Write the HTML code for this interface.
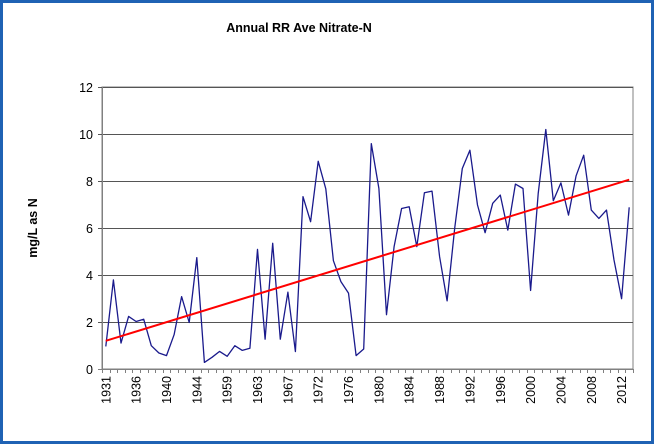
<!DOCTYPE html>
<html><head><meta charset="utf-8"><style>
html,body{margin:0;padding:0;background:#fff;}
svg{display:block;font-family:"Liberation Sans",Arial,sans-serif;}
</style></head><body>
<svg id="chart" width="655" height="446" viewBox="0 0 655 446">
<rect x="1.5" y="1.5" width="651" height="441" fill="#fff" stroke="#1f62b4" stroke-width="3"/>
<text x="299" y="32" text-anchor="middle" font-size="12.5" font-weight="bold">Annual RR Ave Nitrate-N</text>
<text transform="translate(37,228) rotate(-90)" text-anchor="middle" font-size="12.5" font-weight="bold">mg/L as N</text>
<g id="grid"></g>
<g id="yticks"></g>
<g id="xticks"></g>
<g id="series"></g>
</svg>
<script>
const categories = ["1931","1932","1933","1934","1936","1937","1938","1939","1940","1941","1942","1943","1944","1945","1946","1958","1959","1960","1961","1962","1963","1964","1965","1966","1967","1969","1970","1971","1972","1973","1974","1975","1976","1977","1978","1979","1980","1981","1982","1983","1984","1985","1986","1987","1988","1989","1990","1991","1992","1993","1994","1995","1996","1997","1998","1999","2000","2001","2002","2003","2004","2005","2006","2007","2008","2009","2010","2011","2012","2013"];
const nitrate = [0.96,3.79,1.10,2.24,2.02,2.12,0.99,0.68,0.57,1.46,3.08,1.98,4.74,0.28,0.50,0.75,0.54,0.99,0.79,0.88,5.09,1.27,5.35,1.27,3.27,0.74,7.33,6.27,8.84,7.67,4.61,3.72,3.23,0.57,0.85,9.59,7.68,2.31,5.21,6.83,6.90,5.21,7.50,7.57,4.78,2.90,5.99,8.53,9.31,6.98,5.80,7.05,7.40,5.91,7.87,7.68,3.34,7.47,10.19,7.16,7.92,6.55,8.22,9.10,6.76,6.41,6.76,4.64,2.99,6.88];
const yTicks = [0,2,4,6,8,10,12];

const NS="http://www.w3.org/2000/svg";
const L=102,R=633,T=87,B=369,yMax=12;
const cw=(R-L)/categories.length;
const xS=i=>L+(i+0.5)*cw;
const yS=v=>B-(v/yMax)*(B-T);
function mk(tag,attrs,parent){const e=document.createElementNS(NS,tag);for(const k in attrs)e.setAttribute(k,attrs[k]);parent.appendChild(e);return e;}
const grid=document.getElementById('grid'),yt=document.getElementById('yticks'),xt=document.getElementById('xticks'),ser=document.getElementById('series');
mk('rect',{x:L,y:T,width:R-L,height:B-T,fill:'#fff',stroke:'#808080','stroke-width':1},grid);
yTicks.forEach(v=>{
  const y=Math.round(yS(v))+0.5;
  const g=mk('line',{x1:L-4,x2:R,y1:y,y2:y,stroke:v===0?'#808080':'#555','stroke-width':1},grid);
  
  
  const t=mk('text',{x:L-9,y:y+4.5,'text-anchor':'end','font-size':12.5},yt);
  t.textContent=v;
  
  
});
mk('line',{x1:L+0.5,x2:L+0.5,y1:T,y2:B,stroke:'#808080'},grid);
for(let i=0;i<=categories.length;i++){
  const x=Math.round(L+i*cw)+0.5;
  mk('line',{x1:x,x2:x,y1:B,y2:B+4,stroke:'#808080'},xt);
}
categories.forEach((c,i)=>{
  if(i%4!==0)return;
  const x=xS(i)+4.5;
  const t=mk('text',{transform:`translate(${x},${B+7}) rotate(-90)`,'text-anchor':'end','font-size':12.5},xt);
  t.textContent=c;
  
  
});
const line=mk('polyline',{points:nitrate.map((v,i)=>xS(i).toFixed(1)+','+yS(v).toFixed(1)).join(' '),fill:'none',stroke:'#1a1a8c','stroke-width':1.3,'stroke-linejoin':'round'},ser);


// linear trend from data
const n=nitrate.length;let sx=0,sy=0,sxy=0,sxx=0;
nitrate.forEach((v,i)=>{sx+=i;sy+=v;sxy+=i*v;sxx+=i*i;});
const slope=(n*sxy-sx*sy)/(n*sxx-sx*sx),icp=(sy-slope*sx)/n;
const tr=mk('line',{x1:xS(0),y1:yS(icp),x2:xS(n-1),y2:yS(icp+slope*(n-1)),stroke:'#ff0000','stroke-width':2},ser);


</script>
</body></html>
